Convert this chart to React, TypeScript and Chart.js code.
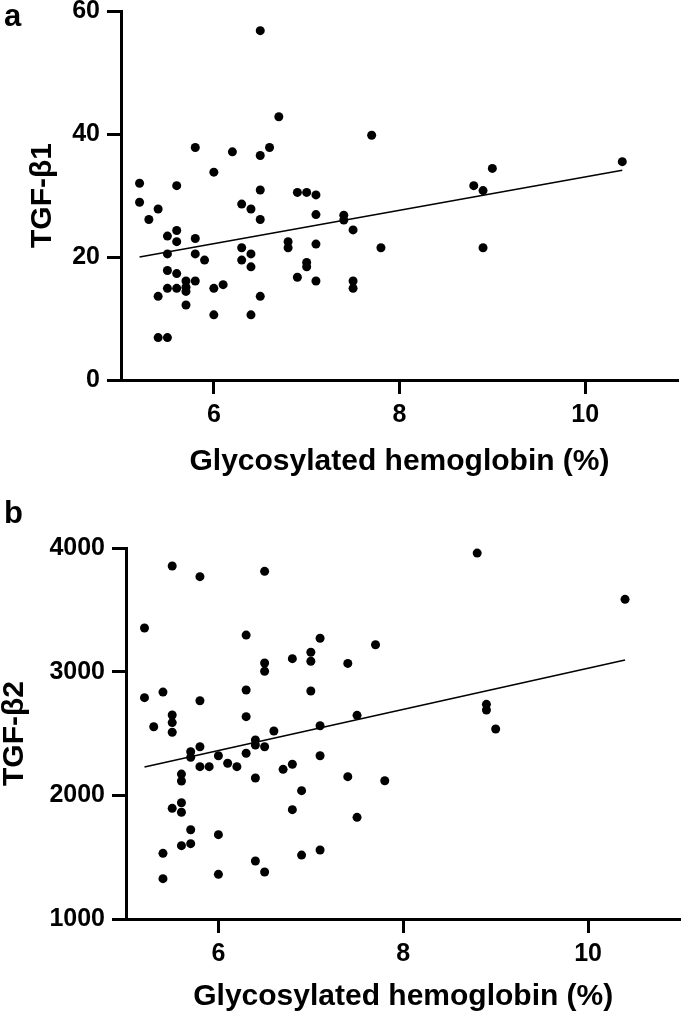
import React, { useEffect, useRef } from "react";
import { Chart, registerables } from "chart.js";

Chart.register(...registerables);

// ---------- data ----------
const hba1cA = [6.5, 6.7, 5.8, 6.2, 6.5, 6.6, 6.0, 5.2, 5.6, 6.5, 6.9, 7.0, 7.1, 5.2, 5.4, 6.3, 6.4, 7.1, 5.3, 6.5, 5.5, 5.6, 5.6, 5.8, 5.5, 5.8, 5.9, 6.3, 6.4, 6.3, 6.4, 6.8, 6.8, 7.1, 7.0, 7.0, 6.9, 7.1, 5.5, 5.6, 5.7, 5.8, 5.7, 5.7, 5.5, 5.6, 5.4, 5.7, 6.0, 6.1, 6.0, 6.4, 6.5, 5.4, 5.5, 7.7, 9.0, 8.8, 8.9, 10.4, 7.4, 7.4, 7.5, 7.8, 8.9, 7.5, 7.5];
const tgfb1 = [56.8, 42.8, 37.8, 37.1, 36.5, 37.8, 33.8, 32.0, 31.6, 30.9, 30.5, 30.5, 30.1, 28.9, 27.8, 28.6, 27.8, 26.9, 26.1, 26.1, 23.4, 24.3, 22.5, 23.0, 20.5, 20.5, 19.5, 21.5, 20.5, 19.5, 18.4, 22.5, 21.5, 22.1, 19.1, 18.4, 16.7, 16.1, 17.8, 17.3, 16.1, 16.1, 15.1, 14.4, 14.9, 14.9, 13.6, 12.2, 14.9, 15.5, 10.6, 10.6, 13.6, 6.9, 6.9, 39.8, 34.4, 31.6, 30.8, 35.5, 26.8, 26.0, 24.4, 21.5, 21.5, 16.1, 14.9];

const hba1cB = [5.5, 5.8, 6.5, 5.2, 6.3, 7.1, 6.8, 7.0, 7.0, 6.5, 6.5, 5.2, 5.4, 5.8, 6.3, 7.0, 5.3, 5.5, 5.5, 5.5, 6.3, 6.6, 7.1, 5.7, 5.7, 5.8, 5.8, 5.9, 6.0, 6.1, 6.2, 6.3, 6.4, 6.4, 6.5, 6.4, 6.7, 6.8, 7.1, 6.9, 6.8, 5.6, 5.6, 5.5, 5.6, 5.6, 5.7, 6.0, 5.6, 5.7, 5.4, 5.4, 6.0, 6.4, 6.5, 6.9, 7.1, 8.8, 10.4, 7.7, 7.4, 7.5, 8.9, 8.9, 9.0, 7.4, 7.8, 7.5];
const tgfb2 = [3854, 3768, 3811, 3353, 3296, 3270, 3105, 3157, 3084, 3070, 3003, 2790, 2835, 2765, 2852, 2844, 2555, 2650, 2588, 2510, 2636, 2520, 2563, 2353, 2307, 2393, 2232, 2232, 2320, 2259, 2232, 2340, 2447, 2407, 2393, 2140, 2210, 2251, 2320, 2038, 1884, 2172, 2116, 1895, 1940, 1863, 1722, 1682, 1593, 1609, 1531, 1326, 1361, 1469, 1380, 1517, 1558, 3959, 3585, 3218, 3067, 2647, 2736, 2690, 2536, 2151, 2118, 1822];

const fitXA = [5.2, 10.4];
const fitYA = [20.0, 34.1];
const fitXB = [5.2, 10.4];
const fitYB = [2229, 3094];

const xTickValues = [6, 8, 10];
const yTicksA = [0, 20, 40, 60];
const yTicksB = [1000, 2000, 3000, 4000];
const xRange = [5, 11];
const xTitle = "Glycosylated hemoglobin (%)";
const yTitleA = "TGF-\u03b21";
const yTitleB = "TGF-\u03b22";

const FONT = "'Liberation Sans', Arial, Helvetica, sans-serif";

type PanelProps = {
  xs: number[];
  ys: number[];
  fitX: number[];
  fitY: number[];
  yTicks: number[];
  yTitle: string;
  top: number;
  height: number;
  padTop: number;
  padRight: number;
  yWidth: number;
  xHeight: number;
  xTitlePad: number;
  yTitlePad: number;
};

function Panel(p: PanelProps) {
  const ref = useRef<HTMLCanvasElement | null>(null);
  useEffect(() => {
    if (!ref.current) return;
    const tickFont = { family: FONT, size: 25, weight: "bold" as const, lineHeight: 1 };
    const titleFont = { family: FONT, size: 30, weight: "bold" as const, lineHeight: 1 };
    const gridOpts = {
      display: true,
      drawOnChartArea: false,
      drawTicks: true,
      tickLength: 14,
      tickWidth: 3,
      tickColor: "#000",
      color: "#000",
    };
    const chart = new Chart(ref.current, {
      type: "scatter",
      data: {
        datasets: [
          {
            type: "scatter",
            data: p.xs.map((x, i) => ({ x, y: p.ys[i] })),
            backgroundColor: "#000",
            borderWidth: 0,
            pointRadius: 4.5,
            pointHoverRadius: 4.5,
          },
          {
            type: "line",
            data: p.fitX.map((x, i) => ({ x, y: p.fitY[i] })),
            borderColor: "#000",
            borderWidth: 1.6,
            pointRadius: 0,
            fill: false,
            tension: 0,
          } as any,
        ],
      },
      options: {
        animation: false,
        responsive: false,
        events: [],
        layout: { padding: { top: p.padTop, right: p.padRight, left: 0, bottom: 0 } },
        plugins: { legend: { display: false }, tooltip: { enabled: false } },
        scales: {
          x: {
            type: "linear",
            min: xRange[0],
            max: xRange[1],
            afterBuildTicks: (s: any) => {
              s.ticks = xTickValues.map((v) => ({ value: v }));
            },
            afterFit: (s: any) => {
              s.height = p.xHeight;
              s.paddingLeft = 0;
              s.paddingRight = 0;
            },
            grid: gridOpts,
            border: { display: true, color: "#000", width: 3 },
            ticks: {
              color: "#000",
              font: tickFont,
              padding: 9,
              maxRotation: 0,
              autoSkip: false,
              callback: (v: any) => String(v),
            },
            title: {
              display: true,
              text: xTitle,
              color: "#000",
              font: titleFont,
              padding: { top: 0, bottom: p.xTitlePad },
            },
          },
          y: {
            type: "linear",
            min: p.yTicks[0],
            max: p.yTicks[p.yTicks.length - 1],
            afterBuildTicks: (s: any) => {
              s.ticks = p.yTicks.map((v) => ({ value: v }));
            },
            afterFit: (s: any) => {
              s.width = p.yWidth;
              s.paddingTop = 0;
              s.paddingBottom = 0;
            },
            grid: gridOpts,
            border: { display: true, color: "#000", width: 3 },
            ticks: {
              color: "#000",
              font: tickFont,
              padding: 7,
              autoSkip: false,
              callback: (v: any) => String(v),
            },
            title: {
              display: true,
              text: p.yTitle,
              color: "#000",
              font: titleFont,
              padding: { top: p.yTitlePad, bottom: 0 },
            },
          },
        },
      } as any,
    });
    return () => chart.destroy();
  }, []);
  return (
    <canvas
      ref={ref}
      width={685}
      height={p.height}
      style={{ position: "absolute", left: 0, top: p.top, width: 685, height: p.height }}
    />
  );
}

export default function App() {
  const labelStyle: React.CSSProperties = {
    position: "absolute",
    left: 4,
    fontFamily: FONT,
    fontWeight: "bold",
    fontSize: 31,
    lineHeight: "31px",
    color: "#000",
  };
  return (
    <div
      style={{
        position: "absolute",
        left: 0,
        top: 0,
        width: 685,
        height: 1019,
        background: "#fff",
        overflow: "hidden",
      }}
    >
      <Panel
        xs={hba1cA}
        ys={tgfb1}
        fitX={fitXA}
        fitY={fitYA}
        yTicks={yTicksA}
        yTitle={yTitleA}
        top={0}
        height={509}
        padTop={11}
        padRight={7}
        yWidth={121}
        xHeight={129}
        xTitlePad={32}
        yTitlePad={28}
      />
      <Panel
        xs={hba1cB}
        ys={tgfb2}
        fitX={fitXB}
        fitY={fitYB}
        yTicks={yTicksB}
        yTitle={yTitleB}
        top={509}
        height={510}
        padTop={39}
        padRight={3}
        yWidth={126}
        xHeight={100}
        xTitlePad={7}
        yTitlePad={0}
      />
      <div style={{ ...labelStyle, top: 0 }}>a</div>
      <div style={{ ...labelStyle, top: 497 }}>b</div>
    </div>
  );
}
